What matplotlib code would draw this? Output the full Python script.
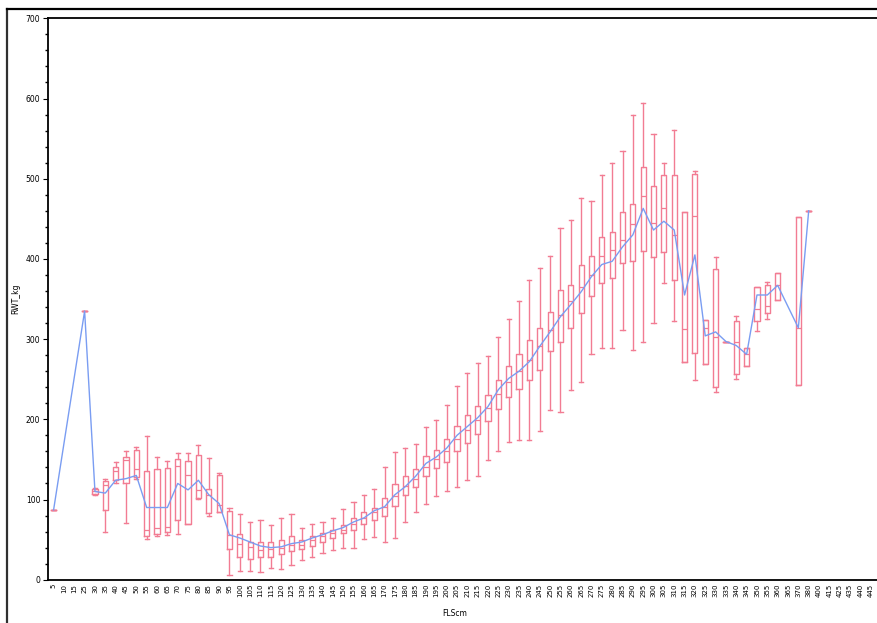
import matplotlib
matplotlib.use("Agg")
import matplotlib.pyplot as plt
from matplotlib.lines import Line2D
from matplotlib.ticker import MultipleLocator

# x categories (FLScm) - tick labels
x_labels = [5, 10, 15] + list(range(25, 375, 5)) + [380, 400, 415, 425, 435, 440, 445]

# box statistics per category index (None = no data)
whis_lo = [87, None, None, 335, 106, 59, 121, 71, 126, 51, 54, 56, 57, 70, 101, 80, 85, 6, 11, 11,
           10, 14, 13, 18, 25, 28, 33, 37, 39, 40, 51, 53, 47, 52, 72, 85, 94, 104, 110, 115,
           124, 129, 149, 160, 172, 174, 174, 186, 212, 209, 237, 247, 281, 289, 289, 311, 287, 297, 320, 370,
           323, 272, 249, 269, 234, 297, 250, 266, 310, 325, 349, None, 243, 460]
q1 = [87, None, None, 335, 107, 87, 124, 120, 128, 54, 57, 60, 75, 70, 102, 83, 85, 38, 28, 26,
      28, 28, 32, 36, 38, 42, 47, 52, 58, 62, 70, 75, 79, 92, 106, 116, 129, 139, 147, 160,
      170, 182, 198, 213, 228, 238, 249, 262, 285, 297, 314, 333, 354, 370, 376, 395, 397, 410, 402, 408,
      374, 272, 283, 269, 240, 297, 257, 266, 323, 333, 349, None, 243, 460]
median = [87, None, None, 335, 110, 118, 135, 149, 138, 62, 64, 66, 142, 130, 112, 106, 93, 56, 45, 41,
          37, 38, 39, 43, 43, 49, 54, 58, 62, 70, 77, 84, 91, 104, 117, 126, 141, 151, 161, 176,
          187, 199, 214, 232, 247, 260, 274, 291, 311, 330, 347, 365, 380, 403, 411, 424, 444, 478, 445, 463,
          430, 313, 453, 314, 302, 297, 297, 282, 338, 341, 368, None, 314, 460]
q3 = [87, None, None, 335, 113, 123, 141, 153, 162, 136, 138, 139, 151, 148, 156, 113, 131, 86, 57, 47,
      47, 47, 50, 55, 49, 54, 58, 62, 68, 77, 84, 90, 102, 119, 129, 138, 154, 162, 176, 192,
      205, 217, 230, 249, 266, 282, 299, 314, 334, 361, 368, 392, 404, 427, 434, 458, 469, 514, 491, 504,
      504, 459, 506, 324, 388, 297, 322, 289, 365, 367, 382, None, 452, 460]
whis_hi = [87, None, None, 335, 114, 125, 147, 160, 166, 179, 153, 148, 158, 158, 168, 152, 133, 89, 82, 72,
           75, 68, 77, 82, 65, 70, 72, 77, 88, 97, 106, 113, 140, 159, 164, 169, 191, 199, 218, 242,
           258, 270, 279, 302, 325, 347, 374, 389, 403, 439, 449, 476, 472, 504, 520, 535, 580, 594, 556, 520,
           561, 459, 510, 324, 402, 297, 329, 289, 365, 371, 382, None, 452, 460]
means = [87, None, None, 335, 110, 108, 124, 126, 130, 90, 90, 90, 120, 112, 124, 106, 95, 56, 52, 47,
         42, 40, 41, 45, 47, 52, 56, 61, 65, 72, 77, 86, 91, 106, 116, 129, 145, 153, 164, 180,
         191, 202, 216, 237, 251, 260, 272, 291, 309, 328, 343, 359, 378, 393, 397, 415, 430, 463, 436, 447,
         436, 355, 405, 304, 309, 297, 292, 281, 355, 355, 367, None, 314, 460]

BOX = "#f27c93"
LINE = "#7a9df2"

fig = plt.figure(figsize=(8.78, 6.23), dpi=100)
ax = fig.add_axes([48 / 878, 43.3 / 623, 1 - 48 / 878, 561.4 / 623])

stats, pos = [], []
for i in range(len(median)):
    if median[i] is None:
        continue
    stats.append(dict(whislo=whis_lo[i], q1=q1[i], med=median[i], q3=q3[i], whishi=whis_hi[i]))
    pos.append(i)

ax.bxp(stats, positions=pos, widths=0.5, capwidths=0.4, showfliers=False,
       boxprops=dict(color=BOX, lw=1.0), whiskerprops=dict(color=BOX, lw=1.0),
       capprops=dict(color=BOX, lw=1.0), medianprops=dict(color=BOX, lw=0.9),
       manage_ticks=False)

mx = [i for i in range(len(means)) if means[i] is not None]
my = [means[i] for i in mx]
ax.plot(mx, my, color=LINE, lw=1.0, zorder=5)

ax.set_xlim(-0.54, 79.7)
ax.set_ylim(0, 700)
ax.set_xticks(range(len(x_labels)))
ax.set_xticklabels([str(v) for v in x_labels], rotation=90, fontsize=5)
ax.tick_params(axis="x", length=0, pad=3)
ax.yaxis.set_major_locator(MultipleLocator(100))
ax.yaxis.set_minor_locator(MultipleLocator(20))
ax.tick_params(axis="y", which="major", length=3.5, width=0.8, labelsize=5.5, pad=2)
ax.tick_params(axis="y", which="minor", length=2, width=1.0)
for s in ("left", "bottom", "top"):
    ax.spines[s].set_linewidth(1.3)
ax.spines["right"].set_visible(False)

ax.set_ylabel("RWT_kg", fontsize=5.5)
ax.yaxis.set_label_coords(-28 / 830, 0.5)
ax.set_xlabel("FLScm", fontsize=5.5)
ax.xaxis.set_label_coords((455 - 48) / 830, -29 / 561.4)

# outer frame
fig.add_artist(Line2D([7 / 878, 7 / 878], [0, 1 - 9 / 623], transform=fig.transFigure,
                      color="#303030", lw=1.6))
fig.add_artist(Line2D([7 / 878, 1], [1 - 9 / 623, 1 - 9 / 623], transform=fig.transFigure,
                      color="black", lw=1.6))

fig.savefig("out.png", dpi=100)
